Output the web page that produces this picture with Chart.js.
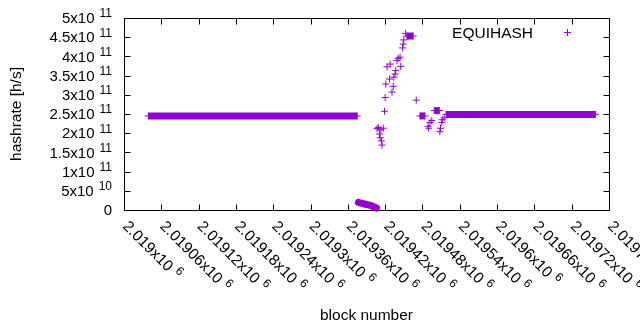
<!DOCTYPE html>
<html>
<head>
<meta charset="utf-8">
<script src="https://cdn.jsdelivr.net/npm/chart.js@4.4.1/dist/chart.umd.min.js"></script>
<style>
  body{margin:0;background:#fff;}
  #wrap{width:640px;height:330px;}
</style>
</head>
<body>
<div id="wrap"><canvas id="c" width="640" height="330"></canvas></div>
<script>
// single blocks
const blocks = [2019407, 2019409, 2019411, 2019412, 2019413, 2019414, 2019415, 2019417,
  2019419, 2019420, 2019421, 2019423, 2019427, 2019428, 2019431, 2019433, 2019434,
  2019436, 2019437, 2019439, 2019441, 2019444, 2019445, 2019448, 2019449, 2019450,
  2019453, 2019470, 2019489, 2019490, 2019492, 2019495, 2019508, 2019509, 2019511,
  2019512, 2019515];
const hashrate = [2.12e11, 2.15e11, 1.98e11, 1.88e11, 2.09e11, 1.80e11, 1.69e11, 2.13e11,
  2.57e11, 2.93e11, 3.28e11, 3.73e11, 3.41e11, 3.80e11, 3.07e11, 3.22e11, 3.46e11,
  3.54e11, 3.63e11, 3.89e11, 3.95e11, 3.98e11, 3.74e11, 4.22e11, 4.32e11, 4.43e11,
  4.60e11, 2.86e11, 2.18e11, 2.13e11, 2.28e11, 2.33e11, 2.04e11, 2.13e11, 2.28e11,
  2.35e11, 2.40e11];

// runs of consecutive blocks at about the same rate (markers merge into a band)
const runFrom = [2019039, 2019455, 2019476, 2019499, 2019518];
const runTo   = [2019375, 2019465, 2019484, 2019507, 2019758];
const runRate = [2.45e11, 4.53e11, 2.45e11, 2.59e11, 2.49e11];

// the short slide down to almost zero after the first run
const slideBlocks = [2019377, 2019387, 2019398, 2019406];
const slideRate = [2.0e10, 1.56e10, 1.12e10, 0.52e10];

const xTicks = [2019000, 2019060, 2019120, 2019180, 2019240, 2019300, 2019360,
  2019420, 2019480, 2019540, 2019600, 2019660, 2019720, 2019780];
const xTickText = ['2.019', '2.01906', '2.01912', '2.01918', '2.01924', '2.0193', '2.01936',
  '2.01942', '2.01948', '2.01954', '2.0196', '2.01966', '2.01972', '2.01978'];
const xTickExp = '6';
const yTicks = [0, 5e10, 1e11, 1.5e11, 2e11, 2.5e11, 3e11, 3.5e11, 4e11, 4.5e11, 5e11];
const yTickText = ['0', '5', '1', '1.5', '2', '2.5', '3', '3.5', '4', '4.5', '5'];
const yTickExp = ['', '10', '11', '11', '11', '11', '11', '11', '11', '11', '11'];

const COLOR = '#9400d3';
const FONT = '"Liberation Sans", Arial, sans-serif';

const pointStyleOpts = {
  borderColor: COLOR, backgroundColor: COLOR,
  pointStyle: 'cross', pointRadius: 3.5, pointHoverRadius: 3.5,
  pointBorderWidth: 1, pointBorderColor: COLOR, clip: false
};

const datasets = [];
datasets.push(Object.assign({
  label: 'EQUIHASH',
  data: blocks.map((b, i) => ({x: b, y: hashrate[i]})),
  showLine: false
}, pointStyleOpts));
runFrom.forEach((f, i) => {
  datasets.push(Object.assign({
    data: [{x: f, y: runRate[i]}, {x: runTo[i], y: runRate[i]}],
    showLine: true, borderWidth: 7, borderCapStyle: 'butt'
  }, pointStyleOpts));
});
datasets.push(Object.assign({
  data: slideBlocks.map((b, i) => ({x: b, y: slideRate[i]})),
  showLine: true, borderWidth: 7, borderCapStyle: 'round', borderJoinStyle: 'round'
}, pointStyleOpts));

// text with a gnuplot style exponent, e.g. 5x10^11
function powText(ctx, mant, exp, size){
  ctx.font = size + 'px ' + FONT;
  const main = exp ? mant + 'x10' : mant;
  const w1 = ctx.measureText(main).width;
  ctx.font = Math.round(size * 0.8) + 'px ' + FONT;
  const w2 = exp ? ctx.measureText(exp).width : 0;
  return {main, w1, w2, gap: exp ? 5 : 0};
}
function drawPow(ctx, mant, exp, x, y, size){
  const t = powText(ctx, mant, exp, size);
  ctx.font = size + 'px ' + FONT;
  ctx.fillText(t.main, x, y);
  if(exp){
    ctx.font = Math.round(size * 0.8) + 'px ' + FONT;
    ctx.fillText(exp, x + t.w1 + t.gap, y - 5);
  }
  return t.w1 + t.gap + t.w2;
}

const framePlugin = {
  id: 'frame',
  beforeDatasetsDraw(chart){
    const ctx = chart.ctx, a = chart.chartArea;
    const xs = chart.scales.x, ys = chart.scales.y;
    const L = Math.round(a.left) + 0.5, R = Math.round(a.right) + 0.5;
    const T = Math.round(a.top) + 0.5, B = Math.round(a.bottom) + 0.5;
    ctx.save();
    ctx.strokeStyle = '#000';
    ctx.lineWidth = 1;
    ctx.beginPath();
    ctx.rect(L, T, R - L, B - T);
    xTicks.forEach(v => {
      const px = Math.round(xs.getPixelForValue(v)) + 0.5;
      ctx.moveTo(px, B); ctx.lineTo(px, B - 6);
      ctx.moveTo(px, T); ctx.lineTo(px, T + 6);
    });
    yTicks.forEach(v => {
      const py = Math.round(ys.getPixelForValue(v)) + 0.5;
      ctx.moveTo(L, py); ctx.lineTo(L + 6, py);
      ctx.moveTo(R, py); ctx.lineTo(R - 6, py);
    });
    ctx.stroke();
    ctx.restore();
  },
  afterDraw(chart){
    const ctx = chart.ctx, a = chart.chartArea;
    const xs = chart.scales.x, ys = chart.scales.y;
    ctx.save();
    ctx.fillStyle = '#000';
    ctx.textBaseline = 'middle';
    ctx.textAlign = 'left';
    // y tick labels, right aligned
    yTicks.forEach((v, i) => {
      const t = powText(ctx, yTickText[i], yTickExp[i], 15);
      const w = t.w1 + t.gap + t.w2;
      drawPow(ctx, yTickText[i], yTickExp[i], 112 - w, ys.getPixelForValue(v) + 1, 15);
    });
    // x tick labels, turned 45 degrees
    xTicks.forEach((v, i) => {
      ctx.save();
      ctx.translate(xs.getPixelForValue(v) + 1, a.bottom + 14);
      ctx.rotate(Math.PI / 4);
      drawPow(ctx, xTickText[i], xTickExp, 0, 0, 15.5);
      ctx.restore();
    });
    // axis titles
    ctx.font = '15.5px ' + FONT;
    ctx.textAlign = 'center';
    ctx.fillText('block number', (a.left + a.right) / 2, 316);
    ctx.save();
    ctx.translate(17, (a.top + a.bottom) / 2);
    ctx.rotate(-Math.PI / 2);
    ctx.fillText('hashrate [h/s]', 0, 0);
    ctx.restore();
    // key
    ctx.textAlign = 'right';
    ctx.textBaseline = 'alphabetic';
    ctx.fillText('EQUIHASH', 533, 38);
    ctx.strokeStyle = COLOR;
    ctx.lineWidth = 1;
    ctx.beginPath();
    ctx.moveTo(564, 32.5); ctx.lineTo(571, 32.5);
    ctx.moveTo(567.5, 29); ctx.lineTo(567.5, 36);
    ctx.stroke();
    ctx.restore();
  }
};

new Chart(document.getElementById('c'), {
  type: 'scatter',
  data: {datasets: datasets},
  options: {
    responsive: false,
    animation: false,
    layout: {padding: {left: 124, right: 31, top: 18, bottom: 120}},
    plugins: {legend: {display: false}, tooltip: {enabled: false}},
    scales: {
      x: {type: 'linear', min: 2019000, max: 2019780, display: false},
      y: {type: 'linear', min: 0, max: 5e11, display: false}
    }
  },
  plugins: [framePlugin]
});
</script>
</body>
</html>
